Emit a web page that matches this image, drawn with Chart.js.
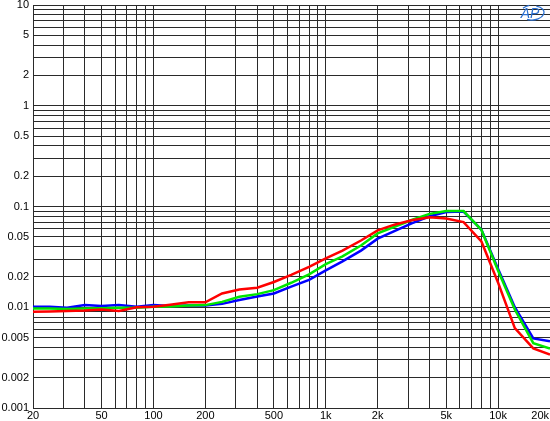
<!DOCTYPE html>
<html>
<head>
<meta charset="utf-8">
<script src="https://cdn.jsdelivr.net/npm/chart.js@4/dist/chart.umd.min.js"></script>
<style>
html,body{margin:0;padding:0;background:#fff;}
canvas{display:block;}
</style>
</head>
<body>
<canvas id="c" width="550" height="421"></canvas>
<script>
const freqs = [20,25,31.5,40,50,63,80,100,125,160,200,250,315,400,500,630,800,1000,1250,1600,2000,2500,3150,4000,5000,6300,8000,10000,12500,16000,20000];
const blueVals = [0.0101,0.0101,0.0099,0.0105,0.0103,0.0105,0.0101,0.0105,0.0103,0.0104,0.0104,0.0108,0.0118,0.0128,0.0137,0.0160,0.0187,0.0232,0.0285,0.0365,0.0480,0.0570,0.0680,0.0800,0.0880,0.0890,0.0590,0.0240,0.0100,0.0049,0.0046];
const greenVals = [0.0097,0.0097,0.0096,0.0097,0.0098,0.0099,0.0099,0.0101,0.0102,0.0104,0.0105,0.0113,0.0127,0.0135,0.0148,0.0175,0.0212,0.0268,0.0320,0.0410,0.0540,0.0630,0.0735,0.0845,0.0900,0.0900,0.0585,0.0230,0.0095,0.0044,0.0039];
const redVals = [0.0090,0.0091,0.0092,0.0093,0.0095,0.0092,0.0100,0.0101,0.0106,0.0112,0.0112,0.0137,0.0150,0.0156,0.0178,0.0210,0.0252,0.0305,0.0365,0.0460,0.0580,0.0660,0.0730,0.0780,0.0760,0.0700,0.0450,0.0175,0.0062,0.0039,0.0034];
const xTickValues = [20,30,40,50,60,70,80,90,100,200,300,400,500,600,700,800,900,1000,2000,3000,4000,5000,6000,7000,8000,9000,10000,20000];
const xTickLabels = {20:'20',50:'50',100:'100',200:'200',500:'500',1000:'1k',2000:'2k',5000:'5k',10000:'10k',20000:'20k'};
const yTickValues = [];
[0.001,0.01,0.1,1].forEach(d=>{for(let m=1;m<10;m++) yTickValues.push(+(d*m).toPrecision(3));});
yTickValues.push(10);
const yTickLabels = {10:'10',5:'5',2:'2',1:'1',0.5:'0.5',0.2:'0.2',0.1:'0.1',0.05:'0.05',0.02:'0.02',0.01:'0.01',0.005:'0.005',0.002:'0.002',0.001:'0.001'};

const FONT = "'Liberation Sans', Arial, sans-serif";
const gridColor = '#2a2a2a';

function pts(vals){ return freqs.map((f,i)=>({x:f,y:vals[i]})); }

const xLabelPlugin = {
  id:'xlabels',
  afterDraw(chart){
    const ctx = chart.ctx, xs = chart.scales.x, area = chart.chartArea;
    ctx.save();
    ctx.font = '11px ' + FONT;
    ctx.fillStyle = '#000';
    ctx.textBaseline = 'middle';
    const keys = Object.keys(xTickLabels).map(Number);
    keys.forEach((v,i)=>{
      const px = xs.getPixelForValue(v);
      const t = xTickLabels[v];
      if(i === keys.length-1){ ctx.textAlign='right'; ctx.fillText(t, chart.width-1, area.bottom+8); }
      else { ctx.textAlign='center'; ctx.fillText(t, px, area.bottom+8); }
    });
    // AP logo
    ctx.fillStyle = '#2a6fd0';
    ctx.strokeStyle = '#2a6fd0';
    ctx.font = 'italic 14px ' + FONT;
    ctx.textAlign = 'center';
    ctx.fillText('AP', 530, 14);
    ctx.lineWidth = 1.3;
    ctx.beginPath();
    ctx.ellipse(533, 13, 11, 7, -0.1, -1.2, Math.PI*0.7);
    ctx.stroke();
    ctx.beginPath();
    ctx.ellipse(532, 13, 12, 8, -0.1, Math.PI*1.25, Math.PI*1.45);
    ctx.stroke();
    ctx.restore();
  }
};

new Chart(document.getElementById('c'), {
  type:'line',
  data:{
    datasets:[
      {label:'red', data:pts(redVals), borderColor:'#ff0000', borderWidth:2.5, pointRadius:0, tension:0, order:0},
      {label:'green', data:pts(greenVals), borderColor:'#00e600', borderWidth:2.5, pointRadius:0, tension:0, order:1},
      {label:'blue', data:pts(blueVals), borderColor:'#0000ff', borderWidth:2.5, pointRadius:0, tension:0, order:2}
    ]
  },
  options:{
    responsive:false,
    animation:false,
    devicePixelRatio:1,
    layout:{padding:{top:5,right:0,bottom:13,left:0}},
    plugins:{legend:{display:false},tooltip:{enabled:false}},
    scales:{
      x:{
        type:'logarithmic', min:20, max:20000,
        afterBuildTicks(s){ s.ticks = xTickValues.map(v=>({value:v})); },
        afterFit(s){ s.height = 0; s.paddingLeft=0; s.paddingRight=0; },
        ticks:{display:false, autoSkip:false},
        grid:{color:gridColor, lineWidth:1, drawTicks:false},
        border:{display:true, color:gridColor}
      },
      y:{
        type:'logarithmic', min:0.001, max:10,
        afterBuildTicks(s){ s.ticks = yTickValues.map(v=>({value:v})); },
        afterFit(s){ s.width = 33; s.paddingTop=0; s.paddingBottom=0; },
        ticks:{autoSkip:false, padding:4, color:'#000', font:{family:FONT, size:11},
          callback(v){ const k = +(+v).toPrecision(3); return yTickLabels[k] !== undefined ? yTickLabels[k] : ''; }},
        grid:{color:gridColor, lineWidth:1, drawTicks:false},
        border:{display:true, color:gridColor}
      }
    }
  },
  plugins:[xLabelPlugin]
});
</script>
</body>
</html>
